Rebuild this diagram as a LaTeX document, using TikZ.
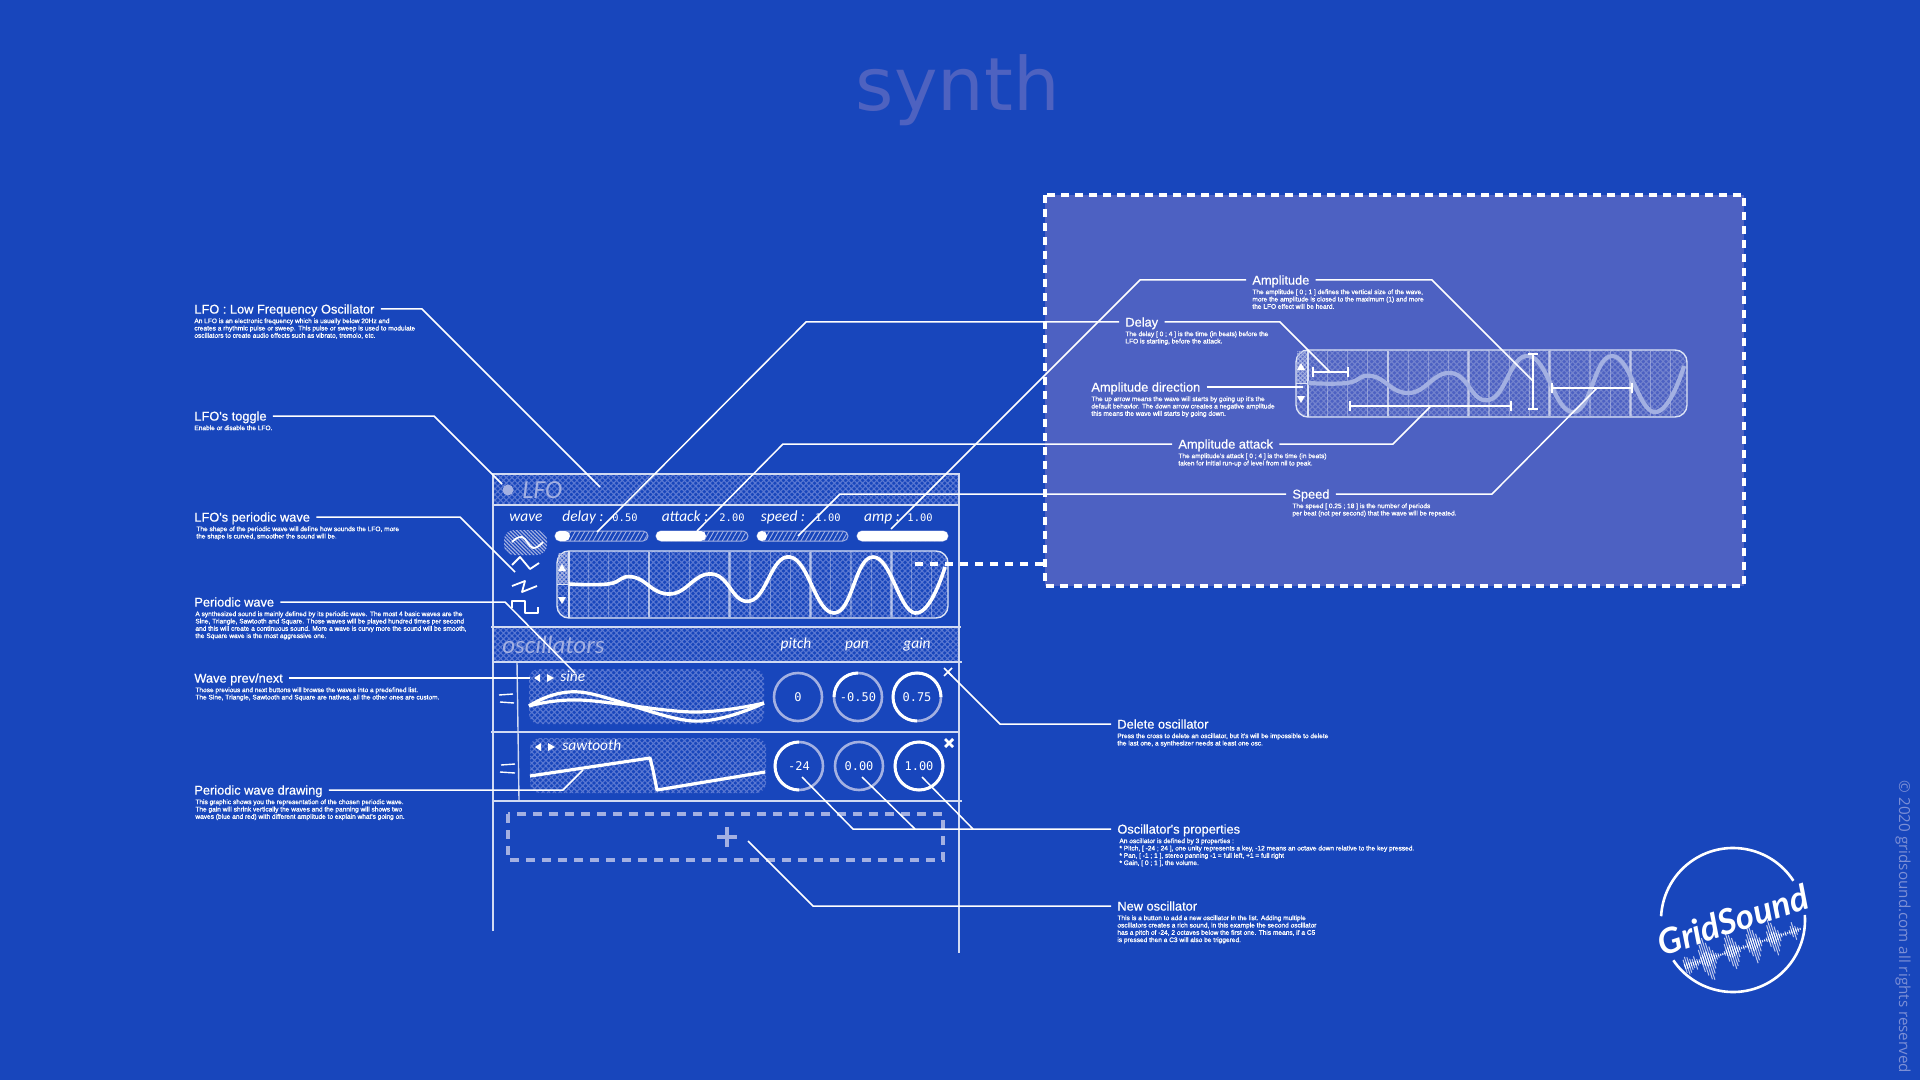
\documentclass[tikz,border=0pt]{standalone}
\usepackage{fontspec}
\setmainfont{Liberation Sans}
\setmonofont{DejaVu Sans Mono}
\newfontfamily\titlefont{DejaVu Sans}
\newfontfamily\handfont{Carlito}
\newfontfamily\logofont{Lato}
\newfontfamily\notefont{Open Sans}
\newfontfamily\ttlfont[FakeBold=.6]{Liberation Sans}
\newfontfamily\dscfont[FakeBold=1.2]{Liberation Sans}
\usetikzlibrary{positioning,patterns.meta}
\definecolor{bgblue}{HTML}{1846BC}
\definecolor{zoomblue}{HTML}{4D61C2}
\definecolor{titleblue}{HTML}{4E62C0}
\definecolor{lightc}{HTML}{A3B0E2}
\definecolor{hatchc}{HTML}{5A78D2}
\definecolor{zoomhatch}{HTML}{7383CE}
\definecolor{notec}{HTML}{7C8FD6}

\begin{document}
\begin{tikzpicture}[x=.5pt,y=-.5pt,node distance=.5pt,
	ttl/.style={anchor=west,inner sep=0,text=white,text height=6.1pt,text depth=1.5pt,font=\ttlfont\fontsize{6.4}{7}\selectfont},
	dsc/.style={anchor=north west,inner sep=0,text=white,align=left,font=\dscfont\fontsize{3.28}{3.65}\selectfont},
	leader/.style={draw=white,line width=.75pt},
	ldrout/.style={leader,shorten <=3pt},
	ldrin/.style={leader,shorten >=3pt},
	panelline/.style={draw=white!80!bgblue,line width=.7pt},
	hatched/.style={pattern={Hatch[angle=45,distance=2pt,line width=.55pt]},pattern color=hatchc},
	slash/.style={pattern={Lines[angle=60,distance=2pt,line width=.45pt]},pattern color=lightc},
	hand/.style={inner sep=0,text=white,text height=5pt,text depth=1.5pt,font=\handfont\itshape\fontsize{7.7}{9}\selectfont},
	val/.style={inner sep=0,text=white,font=\ttfamily\fontsize{5.2}{6}\selectfont},
	head/.style={anchor=west,inner sep=0,text=lightc,font=\handfont\itshape\fontsize{12.5}{13}\selectfont},
	knob/.style={circle,draw=lightc,line width=1.3pt,minimum size=24pt,inner sep=0,text=white,font=\ttfamily\fontsize{6}{7}\selectfont},
	knobon/.style={draw=white,line width=1.5pt},
	bar/.style={draw=white,line width=.7pt},
	wavy/.style={draw=white,line width=1.6pt,line join=round}]

\fill[bgblue] (0,0) rectangle (1920,1080);
\node[inner sep=0,text=titleblue,font=\titlefont\fontsize{36.8}{40}\selectfont] (synthTitle) at (958,90) {synth};

% zoom panel
\draw[fill=zoomblue,draw=white,line width=1.7pt,dash pattern=on 4pt off 3pt] (1045,195) rectangle (1744,586);
\coordinate (dashA) at (915,564);
\coordinate (dashB) at (1045,564);

% main panel
\fill[hatched] (493,474) rectangle (959,505);
\fill[hatched] (493,627) rectangle (959,662);
\draw[panelline] (493,931) -- (493,474) -- (959,474) -- (959,953);
\draw[panelline] (493,505) -- (959,505);
\draw[panelline] (491,627) -- (961,627);
\draw[panelline] (493,662) -- (962,662);
\draw[panelline] (491,732) -- (959,732);
\draw[panelline] (493,801) -- (962,801);
\draw[panelline] (517,662) -- (519,800);

\node[circle,fill=lightc,inner sep=0,minimum size=5.5pt] (toggleDot) at (508,490) {};
\node[head,font=\handfont\itshape\fontsize{13}{14}\selectfont] (lfoHead) at (522,490) {LFO};
\node[head] (oscHead) at (502,645) {oscillators};
\node[hand] (pitchLbl) at (796,645) {pitch};
\node[hand] (panLbl) at (857,645) {pan};
\node[hand] (gainLbl) at (917,645) {gain};
\node[hand] (waveLbl) at (526,518) {wave};
\node[hand] (delayLbl) at (583,518) {delay :};
\node[val] (delayVal) at (625,518) {0.50};
\node[hand] (attackLbl) at (685,518) {attack :};
\node[val] (attackVal) at (732,518) {2.00};
\node[hand] (speedLbl) at (783,518) {speed :};
\node[val] (speedVal) at (828,518) {1.00};
\node[hand] (ampLbl) at (882,518) {amp :};
\node[val] (ampVal) at (920,518) {1.00};

% sliders
\foreach \a/\b/\c in {555/570/648,656/706/748,757/767/848,857/948/948}{
	\draw[slash,draw=lightc,line width=.5pt,rounded corners=2.5pt] (\a,531) rectangle (\c,541);
	\fill[white,rounded corners=2.5pt] (\a,531) rectangle (\b,541);
}

% wave choices
\fill[pattern={Lines[angle=-45,distance=1.3pt,line width=.6pt]},pattern color=lightc,rounded corners=5pt] (504,530) rectangle (547,555);
\draw[white,line width=.9pt] plot[smooth,tension=.7] coordinates {(512,542) (522,537) (533,548) (543,542)};
\draw[white,line width=.9pt,line join=round] (512,565) -- (520,557) -- (530,569) -- (539,563);
\draw[white,line width=.9pt,line join=round] (512,586) -- (525,581) -- (522,592) -- (537,586);
\draw[white,line width=.9pt,line join=round] (512,608) -- (512,601) -- (525,601) -- (525,613) -- (538,613) -- (538,607);

% lfo wave, drawn a second time in the zoom panel
\foreach \dx/\dy/\wc/\hc/\lw in {0/0/white/hatchc/1.8pt,739/-201/lightc/zoomhatch/2.1pt}{
	\begin{scope}[shift={(\dx,\dy)}]
	\fill[hatched,pattern color=\hc,rounded corners=6pt] (557,551) rectangle (948,618);
	\foreach \k in {0,...,17}
		\draw[white,opacity=.3,line width=.6pt] ({588.3+20.2*\k},552) -- ({588.3+20.2*\k},617);
	\foreach \k in {3,7,11,15}
		\draw[white,opacity=.45,line width=1.3pt] ({588.3+20.2*\k},552) -- ({588.3+20.2*\k},617);
	\draw[white!85!bgblue,line width=.7pt,rounded corners=6pt] (557,551) rectangle (948,618);
	\fill[pattern={Hatch[angle=45,distance=1.5pt,line width=.5pt]},pattern color=lightc] (558,553) rectangle (569,584);
	\draw[white!85!bgblue,line width=.6pt] (569,551) -- (569,618);
	\draw[white!85!bgblue,line width=.5pt] (557,584) -- (569,584);
	\fill[white] (558,571) -- (566,571) -- (562,564) -- cycle;
	\fill[white] (558,597) -- (566,597) -- (562,604) -- cycle;
	\draw[\wc,line width=\lw,line join=round] plot[smooth,tension=.8] coordinates {(569,584) (608,584) (633,577) (670,594) (712,574) (750,601) (790,557) (834,613) (873,557) (915,613) (945,567)};
	\end{scope}
}
\draw[white,line width=1.6pt,dash pattern=on 4pt off 3.5pt] (dashA) -- (dashB);

% measures
\draw[bar] (1313,367) -- (1313,377) (1313,372) -- (1348,372) (1348,367) -- (1348,377);
\draw[bar] (1350,401) -- (1350,411) (1350,406) -- (1511,406) (1511,401) -- (1511,411);
\draw[bar] (1528,354) -- (1538,354) (1533,354) -- (1533,409) (1528,409) -- (1538,409);
\draw[bar] (1552,383) -- (1552,393) (1552,388) -- (1632,388) (1632,383) -- (1632,393);

% oscillators
\fill[hatched,rounded corners=5pt] (529,669) rectangle (764,724);
\fill[hatched,rounded corners=5pt] (530,738) rectangle (766,793);
\foreach \x/\y in {537/678,538/747}{
	\fill[white] (\x-3,\y) -- (\x+3,\y-4) -- (\x+3,\y+4) -- cycle;
	\fill[white] (\x+17,\y) -- (\x+10,\y-4) -- (\x+10,\y+4) -- cycle;
}
\node[hand,anchor=west] (sineLbl) at (560,678) {sine};
\node[hand,anchor=west] (sawLbl) at (562,747) {sawtooth};
\draw[wavy] plot[smooth,tension=.6] coordinates {(529,706) (580,692) (693,721) (764,703)};
\draw[wavy] plot[smooth,tension=.6] coordinates {(529,706) (580,700) (693,712) (764,703)};
\draw[wavy] (530,776) -- (650,758) -- (653,770) -- (657,790) -- (765,772);
\draw[white,line width=.7pt] (499,695) -- (513,694) (500,702) -- (514,703);
\draw[white,line width=.7pt] (501,765) -- (515,764) (500,772) -- (515,773);
\foreach \n/\x/\y/\t in {knobA/798/697/0,knobB/858/697/-0.50,knobC/917/697/0.75,knobD/799/766/-24,knobE/859/766/0.00,knobF/919/766/1.00}
	\node[knob] (\n) at (\x,\y) {\t};
\draw[knobon] (knobB.center) ++(90:12pt) arc[start angle=90,end angle=180,radius=12pt];
\draw[knobon] (knobC.center) ++(-90:12pt) arc[start angle=-90,end angle=-360,radius=12pt];
\draw[knobon] (knobD.center) ++(90:12pt) arc[start angle=90,end angle=270,radius=12pt];
\draw[knobon] (knobF.center) circle (12pt);
\draw[white,line width=.8pt] (944,668) -- (952,676) (944,676) -- (952,668);
\draw[white,line width=1.4pt] (945,739) -- (953,747) (945,747) -- (953,739);

% add button
\draw[lightc,line width=1.6pt,dash pattern=on 4.5pt off 3.5pt] (508,814) rectangle (943,860);
\draw[lightc,line width=2pt] (717,837) -- (737,837) (727,827) -- (727,847);

% texts on the left
\node[ttl] (lfoTtl) at (194,309) {LFO : Low Frequency Oscillator};
\node[below=of lfoTtl.south west,dsc] (lfoDsc) {An LFO is an electronic frequency which is usually below 20Hz and\\creates a rhythmic pulse or sweep. This pulse or sweep is used to modulate\\oscillators to create audio effects such as vibrato, tremolo, etc.};
\node[ttl] (toggleTtl) at (194,416) {LFO's toggle};
\node[below=of toggleTtl.south west,dsc] (toggleDsc) {Enable or disable the LFO.};
\node[ttl] (choiceTtl) at (194,517) {LFO's periodic wave};
\node[below=of choiceTtl.south west,dsc,xshift=1pt] (choiceDsc) {The shape of the periodic wave will define how sounds the LFO, more\\the shape is curved, smoother the sound will be.};
\node[ttl] (periodTtl) at (194,602) {Periodic wave};
\node[below=of periodTtl.south west,dsc,xshift=.5pt] (periodDsc) {A synthesized sound is mainly defined by its periodic wave. The most 4 basic waves are the\\Sine, Triangle, Sawtooth and Square. Those waves will be played hundred times per second\\and this will create a continuous sound. More a wave is curvy more the sound will be smooth,\\the Square wave is the most aggressive one.};
\node[ttl] (browseTtl) at (194,678) {Wave prev/next};
\node[below=of browseTtl.south west,dsc,xshift=.5pt] (browseDsc) {Those previous and next buttons will browse the waves into a predefined list.\\The Sine, Triangle, Sawtooth and Square are natives, all the other ones are custom.};
\node[ttl] (drawTtl) at (194,790) {Periodic wave drawing};
\node[below=of drawTtl.south west,dsc,xshift=.5pt] (drawDsc) {This graphic shows you the representation of the chosen periodic wave.\\The gain will shrink vertically the waves and the panning will shows two\\waves (blue and red) with different amplitude to explain what's going on.};

% texts in the zoom panel
\node[ttl] (ampTtl) at (1252,280) {Amplitude};
\node[below=of ampTtl.south west,dsc] (ampDsc) {The amplitude [ 0 ; 1 ] defines the vertical size of the wave,\\more the amplitude is closed to the maximum (1) and more\\the LFO effect will be heard.};
\node[ttl] (delayTtl) at (1125,322) {Delay};
\node[below=of delayTtl.south west,dsc] (delayDsc) {The delay [ 0 ; 4 ] is the time (in beats) before the\\LFO is starting, before the attack.};
\node[ttl] (dirTtl) at (1091,387) {Amplitude direction};
\node[below=of dirTtl.south west,dsc] (dirDsc) {The up arrow means the wave will starts by going up it's the\\default behavior. The down arrow creates a negative amplitude\\this means the wave will starts by going down.};
\node[ttl] (attackTtl) at (1178,444) {Amplitude attack};
\node[below=of attackTtl.south west,dsc] (attackDsc) {The amplitude's attack [ 0 ; 4 ] is the time (in beats)\\taken for initial run-up of level from nil to peak.};
\node[ttl] (speedTtl) at (1292,494) {Speed};
\node[below=of speedTtl.south west,dsc] (speedDsc) {The speed [ 0.25 ; 18 ] is the number of periods\\per beat (not per second) that the wave will be repeated.};

% texts on the right
\node[ttl] (delOscTtl) at (1117,724) {Delete oscillator};
\node[below=of delOscTtl.south west,dsc] (delOscDsc) {Press the cross to delete an oscillator, but it's will be impossible to delete\\the last one, a synthesizer needs at least one osc.};
\node[ttl] (propTtl) at (1117,829) {Oscillator's properties};
\node[below=of propTtl.south west,dsc,xshift=1pt] (propDsc) {An oscillator is defined by 3 properties :\\* Pitch, [ -24 ; 24 ], one unity represents a key, -12 means an octave down relative to the key pressed.\\* Pan, [ -1 ; 1 ], stereo panning -1 = full left, +1 = full right\\* Gain, [ 0 ; 1 ], the volume.};
\node[ttl] (newOscTtl) at (1117,906) {New oscillator};
\node[below=of newOscTtl.south west,dsc] (newOscDsc) {This is a button to add a new oscillator in the list. Adding multiple\\oscillators creates a rich sound, in this example the second oscillator\\has a pitch of -24, 2 octaves below the first one. This means, if a C5\\is pressed then a C3 will also be triggered.};

% bends and ends of the leaders
\coordinate (lfoBend) at (422,309);
\coordinate (lfoEnd) at (600,487);
\coordinate (toggleBend) at (434,416);
\coordinate (toggleEnd) at (502,484);
\coordinate (choiceBend) at (460,517);
\coordinate (choiceEnd) at (515,572);
\coordinate (periodBend) at (505,602);
\coordinate (periodEnd) at (575,673);
\coordinate (browseEnd) at (530,678);
\coordinate (drawBend) at (563,790);
\coordinate (drawEnd) at (583,770);
\coordinate (delayStart) at (597,532);
\coordinate (delayBendA) at (806,322);
\coordinate (delayBendB) at (1280,322);
\coordinate (delayEnd) at (1330,372);
\coordinate (attackStart) at (697,531);
\coordinate (attackBendA) at (783,444);
\coordinate (attackBendB) at (1393,444);
\coordinate (attackEnd) at (1430,407);
\coordinate (speedStart) at (798,536);
\coordinate (speedBendA) at (840,494);
\coordinate (speedBendB) at (1492,494);
\coordinate (speedEnd) at (1597,388);
\coordinate (ampStart) at (891,529);
\coordinate (ampBendA) at (1140,280);
\coordinate (ampBendB) at (1432,280);
\coordinate (ampEnd) at (1533,381);
\coordinate (dirEnd) at (1303,387);
\coordinate (delOscStart) at (948,672);
\coordinate (delOscBend) at (1000,724);
\coordinate (pitchStart) at (802,777);
\coordinate (pitchBend) at (853,829);
\coordinate (panStart) at (862,777);
\coordinate (panBend) at (915,829);
\coordinate (gainStart) at (922,777);
\coordinate (gainBend) at (973,829);
\coordinate (newStart) at (748,841);
\coordinate (newBend) at (813,906);

\draw[ldrout] (lfoTtl.east) -- (lfoBend) -- (lfoEnd);
\draw[ldrout] (toggleTtl.east) -- (toggleBend) -- (toggleEnd);
\draw[ldrout] (choiceTtl.east) -- (choiceBend) -- (choiceEnd);
\draw[ldrout] (periodTtl.east) -- (periodBend) -- (periodEnd);
\draw[ldrout] (browseTtl.east) -- (browseEnd);
\draw[ldrout] (drawTtl.east) -- (drawBend) -- (drawEnd);
\draw[ldrin] (delayStart) -- (delayBendA) -- (delayTtl.west);
\draw[ldrout] (delayTtl.east) -- (delayBendB) -- (delayEnd);
\draw[ldrin] (attackStart) -- (attackBendA) -- (attackTtl.west);
\draw[ldrout] (attackTtl.east) -- (attackBendB) -- (attackEnd);
\draw[ldrin] (speedStart) -- (speedBendA) -- (speedTtl.west);
\draw[ldrout] (speedTtl.east) -- (speedBendB) -- (speedEnd);
\draw[ldrin] (ampStart) -- (ampBendA) -- (ampTtl.west);
\draw[ldrout] (ampTtl.east) -- (ampBendB) -- (ampEnd);
\draw[ldrout] (dirTtl.east) -- (dirEnd);
\draw[ldrin] (delOscStart) -- (delOscBend) -- (delOscTtl.west);
\draw[ldrin] (pitchStart) -- (pitchBend) -- (propTtl.west);
\draw[leader] (panStart) -- (panBend);
\draw[leader] (gainStart) -- (gainBend);
\draw[ldrin] (newStart) -- (newBend) -- (newOscTtl.west);

% logo
\coordinate (logoMid) at (1733,920);
\draw[white,line width=1.3pt] (logoMid) ++(33:36pt) arc[start angle=33,end angle=177,radius=36pt];
\draw[white,line width=1.3pt] (logoMid) ++(214:36pt) arc[start angle=214,end angle=364,radius=36pt];
\begin{scope}[shift={(1683,967)},rotate=18]
\foreach \amp [count=\k] in {6,8,7,5,4,6,3,2,10,14,18,19,14,10,6,3,2,1,1,2,8,13,16,14,11,7,3,1,2,1,6,10,17,15,12,8,4,1,1,2,7,12,16,13,9,5,2,1,2,1,2,5,8,4,2,1}{
	\draw[lightc!70!white,line width=.5pt] ({\k*2.2},{-\amp*1.15}) -- ({\k*2.2},{\amp*1.15});
	\draw[white,line width=.5pt] ({\k*2.2},{-\amp*.4}) -- ({\k*2.2},{\amp*.4});
}
\end{scope}
\node[rotate=18,inner sep=0,text=white,font=\logofont\bfseries\itshape\fontsize{17.5}{19}\selectfont] (logoName) at (1733,920) {GridSound};
\node[rotate=-90,inner sep=0,text=notec,font=\notefont\fontsize{7.6}{9}\selectfont] (noteTxt) at (1903,927) {© 2020 gridsound.com all rights reserved};
\end{tikzpicture}
\end{document}
